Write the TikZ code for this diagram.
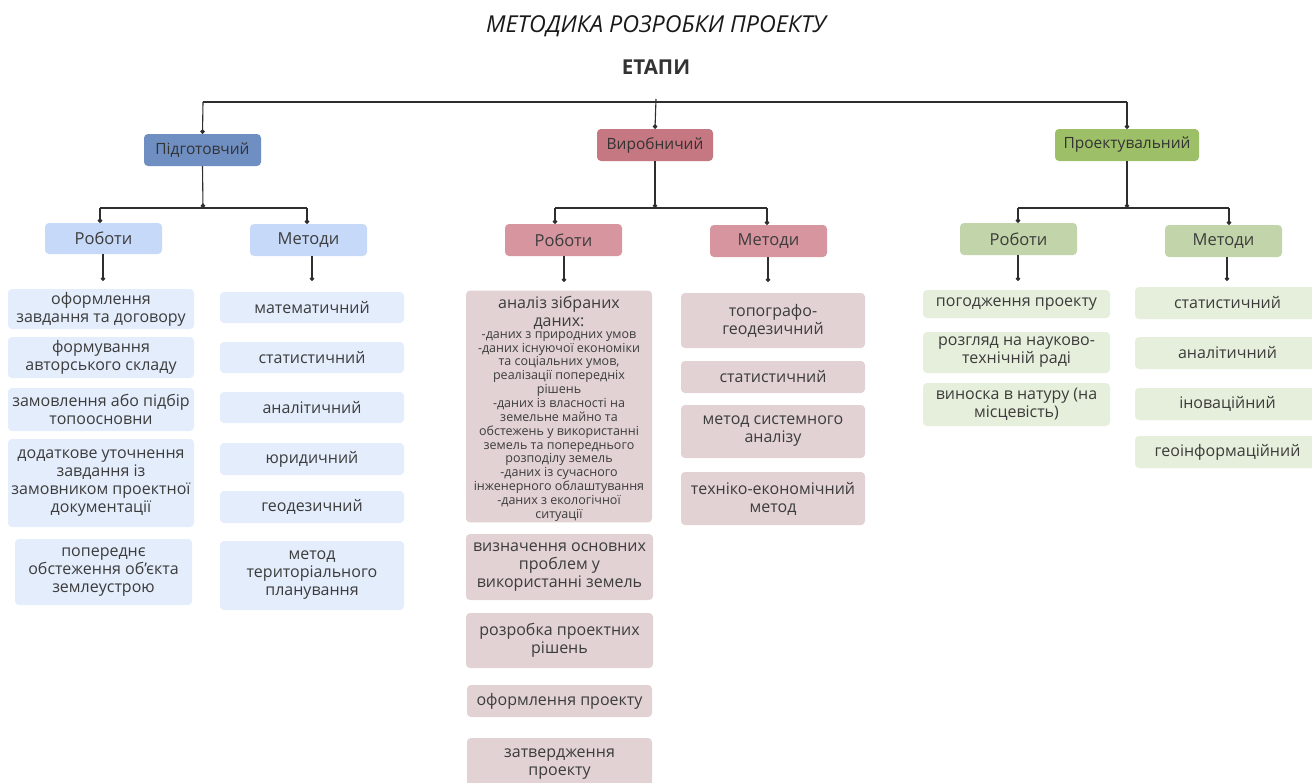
\documentclass[tikz,border=0pt]{standalone}
\usepackage{fontspec}
\setmainfont{Open Sans}
\usetikzlibrary{arrows.meta}
\definecolor{txt}{HTML}{3C3C3C}
\definecolor{lineC}{HTML}{2E2E2E}
\definecolor{stA}{HTML}{6F8FC2}
\definecolor{stB}{HTML}{C57782}
\definecolor{stC}{HTML}{9DBF68}
\definecolor{subA}{HTML}{C7D9F9}
\definecolor{subB}{HTML}{D6959F}
\definecolor{subC}{HTML}{C2D4A9}
\definecolor{leafA}{HTML}{E4EDFC}
\definecolor{leafB}{HTML}{E2D2D4}
\definecolor{leafC}{HTML}{E6EFDB}
\newcommand\smallfs{\fontsize{12.5}{13.85}\selectfont}
\tikzset{
  boxbase/.style={rounded corners=4pt, inner sep=0pt, align=center, text=txt},
  stagebox/.style={boxbase, fill=#1, text=black!80, font=\fontsize{15.5}{18}\selectfont},
  subbox/.style={boxbase, fill=#1, font=\fontsize{16.5}{18}\selectfont},
  leafbox/.style={boxbase, fill=#1, font=\fontsize{16}{18}\selectfont},
  conn/.style={draw=lineC, line width=1.1pt},
  dotted end/.style={-{Circle[length=4.5pt]}},
  busline/.style={draw=lineC, line width=2.6pt},
  subbus/.style={draw=lineC, line width=2pt},
}
\newcommand\bx[7]{\node[#2, minimum width={(#5-#3)*1pt}, minimum height={(#6-#4)*1pt}] (#1) at ({(#3+#5)/2},{(#4+#6)/2}) {#7};}
\begin{document}
\begin{tikzpicture}[x=1pt,y=-1pt]
\useasboundingbox (0,0) rectangle (1312,782);
\clip (0,0) rectangle (1312,782);
\fill[white] (0,0) rectangle (1312,782);
% titles
\node[text=black!90, font=\itshape\fontsize{23.3}{27}\selectfont] (title) at (656,26) {МЕТОДИКА РОЗРОБКИ ПРОЕКТУ};
\node[text=black!80, font=\bfseries\fontsize{20.5}{24}\selectfont] (etapy) at (656,67) {ЕТАПИ};
% stages
\bx{S1}{stagebox=stA}{144}{134}{261}{166}{Підготовчий}
\bx{S2}{stagebox=stB}{597}{129}{713}{161}{Виробничий}
\bx{S3}{stagebox=stC}{1055}{129}{1199}{161}{Проектувальний}
% sub boxes
\bx{R1}{subbox=subA}{45}{223}{162}{254}{Роботи}
\bx{M1}{subbox=subA}{250}{224}{367}{256}{Методи}
\bx{R2}{subbox=subB}{505}{224}{622}{256}{Роботи}
\bx{M2}{subbox=subB}{710}{225}{827}{257}{Методи}
\bx{R3}{subbox=subC}{960}{223}{1077}{255}{Роботи}
\bx{M3}{subbox=subC}{1165}{225}{1282}{257}{Методи}
% left leaves
\bx{L1}{leafbox=leafA}{8}{289}{194}{329}{оформлення\\завдання та договору}
\bx{L2}{leafbox=leafA}{8}{337}{194}{378}{формування\\авторського складу}
\bx{L3}{leafbox=leafA}{8}{388}{194}{431}{замовлення або підбір\\топоосновни}
\bx{L4}{leafbox=leafA}{8}{439}{194}{527}{додаткове уточнення\\завдання із\\замовником проектної\\документації}
\bx{L5}{leafbox=leafA}{15}{539}{192}{605}{попереднє\\обстеження об’єкта\\землеустрою}
\bx{LM1}{leafbox=leafA}{220}{292}{404}{323}{математичний}
\bx{LM2}{leafbox=leafA}{220}{342}{404}{373}{статистичний}
\bx{LM3}{leafbox=leafA}{220}{392}{404}{423}{аналітичний}
\bx{LM4}{leafbox=leafA}{220}{443}{404}{475}{юридичний}
\bx{LM5}{leafbox=leafA}{220}{491}{404}{523}{геодезичний}
\bx{LM6}{leafbox=leafA}{220}{541}{404}{610}{метод\\територіального\\планування}
% middle leaves
\bx{MW1}{leafbox=leafB}{466}{291}{652}{522}{\rule{0pt}{18pt}аналіз зібраних\\даних:\\[-2pt]\smallfs\begin{tabular}{@{}c@{}}-даних з природних умов\\-даних існуючої економіки\\та соціальних умов,\\реалізації попередніх\\рішень\\-даних із власності на\\земельне майно та\\обстежень у використанні\\земель та попереднього\\розподілу земель\\-даних із сучасного\\інженерного облаштування\\-даних з екологічної\\ситуації\end{tabular}}
\bx{MW2}{leafbox=leafB}{466}{534}{653}{600}{визначення основних\\проблем у\\використанні земель}
\bx{MW3}{leafbox=leafB}{466}{613}{653}{668}{розробка проектних\\рішень}
\bx{MW4}{leafbox=leafB}{467}{685}{652}{717}{оформлення проекту}
\bx{MW5}{leafbox=leafB}{467}{738}{652}{790}{затвердження\\проекту}
\bx{MM1}{leafbox=leafB}{681}{293}{865}{348}{топографо-\\геодезичний}
\bx{MM2}{leafbox=leafB}{681}{361}{865}{393}{статистичний}
\bx{MM3}{leafbox=leafB}{681}{405}{865}{458}{метод системного\\аналізу}
\bx{MM4}{leafbox=leafB}{681}{472}{865}{525}{техніко-економічний\\метод}
% right leaves
\bx{RW1}{leafbox=leafC}{923}{290}{1110}{318}{погодження проекту}
\bx{RW2}{leafbox=leafC}{923}{332}{1110}{373}{розгляд на науково-\\технічній раді}
\bx{RW3}{leafbox=leafC}{923}{383}{1110}{426}{виноска в натуру (на\\місцевість)}
\bx{RM1}{leafbox=leafC}{1135}{287}{1320}{319}{статистичний}
\bx{RM2}{leafbox=leafC}{1135}{337}{1320}{369}{аналітичний}
\bx{RM3}{leafbox=leafC}{1135}{388}{1320}{420}{іноваційний}
\bx{RM4}{leafbox=leafC}{1135}{436}{1320}{468}{геоінформаційний}
% top bus
\coordinate (tL) at (203,102);
\coordinate (tM) at (656,99);
\coordinate (tR) at (1127,102);
\draw[busline] (tL) -- (tR);
\draw[conn,dotted end] (tL) -- (S1.north);
\draw[conn,dotted end] (tM) -- (S2.north);
\draw[conn,dotted end] (tR) -- (S3.north);
% level 2 buses
\coordinate (b1) at (203,208); \coordinate (b1L) at (100,208); \coordinate (b1R) at (307,208);
\coordinate (b2) at (655,208); \coordinate (b2L) at (555,208); \coordinate (b2R) at (767,208);
\coordinate (b3) at (1127,208); \coordinate (b3L) at (1018,208); \coordinate (b3R) at (1229,208);
\draw[subbus] (b1L) -- (b1R);
\draw[subbus] (b2L) -- (b2R);
\draw[subbus] (b3L) -- (b3R);
\draw[conn,dotted end] (S1.south) -- (b1);
\draw[conn,dotted end] (S2.south) -- (b2);
\draw[conn,dotted end] (S3.south) -- (b3);
\draw[conn,dotted end] (b1L) -- (b1L |- R1.north);
\draw[conn,dotted end] (b1R) -- (b1R |- M1.north);
\draw[conn,dotted end] (b2L) -- (b2L |- R2.north);
\draw[conn,dotted end] (b2R) -- (b2R |- M2.north);
\draw[conn,dotted end] (b3L) -- (b3L |- R3.north);
\draw[conn,dotted end] (b3R) -- (b3R |- M3.north);
% level 3 stubs
\coordinate (e1) at (103,281); \coordinate (e2) at (312,281);
\coordinate (e3) at (564,282); \coordinate (e4) at (768,282);
\coordinate (e5) at (1018,281); \coordinate (e6) at (1227,281);
\draw[conn,dotted end] (R1.south -| e1) -- (e1);
\draw[conn,dotted end] (M1.south -| e2) -- (e2);
\draw[conn,dotted end] (R2.south -| e3) -- (e3);
\draw[conn,dotted end] (M2.south -| e4) -- (e4);
\draw[conn,dotted end] (R3.south -| e5) -- (e5);
\draw[conn,dotted end] (M3.south -| e6) -- (e6);
\end{tikzpicture}
\end{document}
